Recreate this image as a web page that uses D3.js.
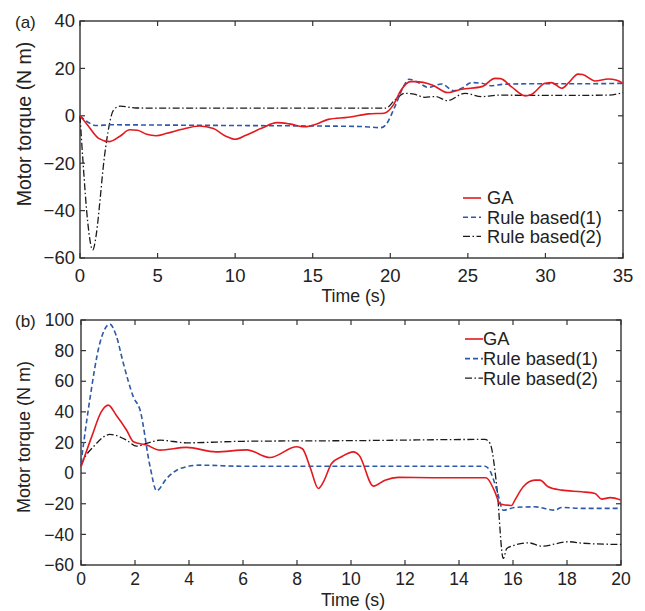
<!DOCTYPE html>
<html lang="en">
<head>
<meta charset="UTF-8">
<title>Motor torque</title>
<script src="https://d3js.org/d3.v7.min.js"></script>
<style>
    body { margin: 0; background: #fff; }
    svg { display: block; font-family: "Liberation Sans", Arial, sans-serif; }
    .frame { fill: none; stroke: #333; stroke-width: 1.4px; }
    .tick-mark { stroke: #333; stroke-width: 1.2px; }
    .tick-label { fill: #222; }
    .axis-title { font-size: 17.7px; fill: #222; }
    .panel-tag { font-size: 17px; fill: #222; }
    .legend-text { font-size: 18.3px; fill: #222; }
    .ga { fill: none; stroke: #e3191f; stroke-width: 1.6px; }
    .rb1 { fill: none; stroke: #2c5aa8; stroke-width: 1.6px; stroke-dasharray: 5, 3; }
    .rb2 { fill: none; stroke: #1a1a1a; stroke-width: 1.3px; stroke-dasharray: 7, 2.5, 1.5, 2.5; }
</style>
</head>
<body>
<script>
// ---- data: panel (a) ----
var xTicksA = [0, 5, 10, 15, 20, 25, 30, 35];
var yTicksA = [-60, -40, -20, 0, 20, 40];

var gaA = [[0, 0], [0.5, -4], [1.2, -9.5], [1.9, -10.9], [2.6, -8.5], [3.2, -5.9], [3.7, -6.1],
    [4.3, -7.8], [4.9, -8.4], [5.6, -7.4], [6.5, -5.8], [7.7, -4.3], [8.6, -5.4], [9.4, -8.6],
    [10, -9.9], [10.7, -8.2], [11.7, -5.3], [12.7, -2.9], [13.5, -3.4], [14.5, -4.6], [15.2, -3.6],
    [16, -1.5], [17.3, -0.6], [18.6, 0.8], [19.6, 1.1], [20.2, 4.6], [20.7, 10.9], [21.3, 14.4],
    [21.6, 14.4], [22.7, 13], [23.7, 9.8], [24.6, 11.2], [25.9, 12.3], [26.75, 15.8], [27.1, 15.7],
    [27.8, 12.3], [28.7, 8.4], [29.1, 9], [29.98, 13.7], [30.4, 14], [31.05, 11.6], [31.5, 14],
    [32.1, 17.6], [32.4, 17.4], [33.2, 14.7], [34.05, 15.5], [34.6, 15], [35, 13.7]];

var rb1A = [[0, 0], [0.4, -2.2], [1.07, -4.1], [2, -3.8], [5, -3.9], [10, -4.1], [15, -4.3],
    [18, -4.5], [19.4, -5], [19.7, -3.9], [20.3, 3.9], [20.85, 12.3], [21.2, 15.4], [21.7, 14.4],
    [22.45, 12], [23.3, 13.4], [24.1, 10.6], [24.6, 11.6], [25.25, 14], [25.9, 13.7], [26.5, 12.7],
    [27.3, 13.3], [29, 13.5], [32, 13.5], [35, 13.7]];

var rb2A = [[0, 0], [0.2, -20], [0.5, -45], [0.82, -56.6], [1.05, -50], [1.3, -35], [1.5, -21.5],
    [1.8, -7], [2.16, 2.4], [2.6, 4.1], [3.6, 3.3], [8, 3.2], [14, 3.2], [19.7, 3.2], [20.3, 6.7],
    [20.95, 9.5], [21.6, 9], [22.2, 7.8], [22.9, 8.1], [23.7, 6.4], [24.8, 9.5], [25.9, 8.1],
    [27, 8.7], [30, 8.6], [34, 8.7], [35, 9.8]];

// ---- data: panel (b) ----
var xTicksB = [0, 2, 4, 6, 8, 10, 12, 14, 16, 18, 20];
var yTicksB = [-60, -40, -20, 0, 20, 40, 60, 80, 100];

var gaB = [[0, 4], [0.4, 24], [0.75, 40], [1.01, 44.4], [1.3, 38], [1.69, 28], [1.94, 20.5],
    [2.43, 18.3], [2.93, 15], [3.91, 16.8], [5, 13.9], [6.14, 15.2], [7, 10.2], [7.99, 17.2],
    [8.2, 15.9], [8.5, 3], [8.79, -10], [8.98, -5.7], [9.28, 6.3], [9.65, 10.7], [10.09, 13.9],
    [10.3, 11.7], [10.83, -8.5], [11.26, -4.6], [11.75, -2.8], [13, -3], [15, -3], [15.33, -12.2],
    [15.52, -20.2], [15.95, -21.1], [16.07, -17.6], [16.38, -8.9], [16.81, -4.6], [17, -4.6],
    [17.3, -8.9], [17.8, -11.1], [18.54, -12.2], [19.04, -13.3], [19.28, -17], [19.6, -16],
    [20, -17.6]];

var rb1B = [[0, 6.5], [0.3, 45], [0.7, 85], [1.07, 97.3], [1.3, 90], [1.57, 71.6], [1.94, 49.8],
    [2.19, 41], [2.56, 4.1], [2.8, -11.5], [3.17, -3.5], [3.67, 3], [4.4, 5.2], [6, 4.5],
    [10, 4.5], [14.96, 4.5], [15.15, 1.5], [15.4, -11], [15.64, -24.2], [16.07, -22.4],
    [16.8, -22], [17.55, -24.2], [17.8, -22.4], [18.5, -23], [20, -23]];

var rb2B = [[0, 5], [0.09, 8.5], [0.5, 18], [1.07, 25.3], [1.69, 21.5], [2.06, 17.6], [2.43, 19.4],
    [2.93, 21.5], [3.91, 19.8], [6, 20.8], [10, 21.2], [14.96, 22], [15.15, 19.4], [15.4, -8.9],
    [15.64, -55.7], [15.77, -49.2], [16.07, -47], [16.57, -45.5], [17.06, -47.7], [18.05, -44.8],
    [18.6, -45.8], [20, -46.6]];

var legendNames = ["GA", "Rule based(1)", "Rule based(2)"];
var seriesClasses = ["ga", "rb1", "rb2"];

function fmt(v) {
    return v < 0 ? "\u2212" + Math.abs(v) : String(v);
}

function drawPanel(svg, cfg) {
    var x = d3.scaleLinear().domain(cfg.xDomain).range([cfg.left, cfg.right]);
    var y = d3.scaleLinear().domain(cfg.yDomain).range([cfg.bottom, cfg.top]);
    var g = svg.append("g");
    var tl = 5;

    g.append("rect").attr("class", "frame")
        .attr("x", cfg.left).attr("y", cfg.top)
        .attr("width", cfg.right - cfg.left).attr("height", cfg.bottom - cfg.top);

    // inward ticks on all four sides
    cfg.xTicks.forEach(function(t) {
        g.append("line").attr("class", "tick-mark")
            .attr("x1", x(t)).attr("x2", x(t)).attr("y1", cfg.bottom).attr("y2", cfg.bottom - tl);
        g.append("line").attr("class", "tick-mark")
            .attr("x1", x(t)).attr("x2", x(t)).attr("y1", cfg.top).attr("y2", cfg.top + tl);
        g.append("text").attr("class", "tick-label")
            .attr("x", x(t)).attr("y", cfg.bottom + cfg.xLabelOff)
            .style("font-size", cfg.tickSize + "px")
            .attr("text-anchor", "middle").text(fmt(t));
    });
    cfg.yTicks.forEach(function(t) {
        g.append("line").attr("class", "tick-mark")
            .attr("x1", cfg.left).attr("x2", cfg.left + tl).attr("y1", y(t)).attr("y2", y(t));
        g.append("line").attr("class", "tick-mark")
            .attr("x1", cfg.right).attr("x2", cfg.right - tl).attr("y1", y(t)).attr("y2", y(t));
        g.append("text").attr("class", "tick-label")
            .attr("x", cfg.left - cfg.yLabelGap).attr("y", y(t))
            .style("font-size", cfg.tickSize + "px")
            .attr("dy", "0.35em").attr("text-anchor", "end").text(fmt(t));
    });

    var line = d3.line()
        .x(function(d) { return x(d[0]); })
        .y(function(d) { return y(d[1]); })
        .curve(d3.curveMonotoneX);

    // draw black first, red on top
    [2, 1, 0].forEach(function(i) {
        g.append("path").attr("class", seriesClasses[i]).attr("d", line(cfg.series[i]));
    });

    g.append("text").attr("class", "axis-title")
        .attr("x", (cfg.left + cfg.right) / 2 + 2).attr("y", cfg.xTitleY)
        .attr("text-anchor", "middle").text("Time (s)");

    g.append("text").attr("class", "axis-title")
        .attr("transform", "translate(" + cfg.yTitleX + "," + cfg.yTitleY + ") rotate(-90)")
        .attr("text-anchor", "middle").attr("dy", "0.35em")
        .style("font-size", cfg.yTitleSize + "px")
        .text("Motor torque (N m)");

    g.append("text").attr("class", "panel-tag")
        .attr("x", 15).attr("y", cfg.top + 7).text(cfg.tag);

    // legend
    legendNames.forEach(function(name, i) {
        var ly = cfg.legendY + i * cfg.legendStep;
        g.append("line").attr("class", seriesClasses[i])
            .attr("x1", cfg.legendX).attr("x2", cfg.legendX + 18)
            .attr("y1", ly).attr("y2", ly);
        g.append("text").attr("class", "legend-text")
            .attr("x", cfg.legendX + cfg.legendGap).attr("y", ly)
            .attr("dy", "0.35em").text(name);
    });
}

var svg = d3.select("body").append("svg")
    .attr("width", 645).attr("height", 611);

drawPanel(svg, {
    tag: "(a)", left: 80, right: 623, top: 21, bottom: 258,
    xDomain: [0, 35], yDomain: [-60, 40], xTicks: xTicksA, yTicks: yTicksA,
    series: [gaA, rb1A, rb2A],
    tickSize: 18.5, xLabelOff: 24, yLabelGap: 5,
    xTitleY: 302, yTitleX: 24, yTitleY: 124, yTitleSize: 19.5,
    legendX: 463, legendGap: 24, legendY: 198, legendStep: 19.2
});

drawPanel(svg, {
    tag: "(b)", left: 81, right: 621, top: 320, bottom: 565,
    xDomain: [0, 20], yDomain: [-60, 100], xTicks: xTicksB, yTicks: yTicksB,
    series: [gaB, rb1B, rb2B],
    tickSize: 17.5, xLabelOff: 20, yLabelGap: 7,
    xTitleY: 606, yTitleX: 24, yTitleY: 437, yTitleSize: 18,
    legendX: 465, legendGap: 18, legendY: 339, legendStep: 19.6
});
</script>
</body>
</html>
